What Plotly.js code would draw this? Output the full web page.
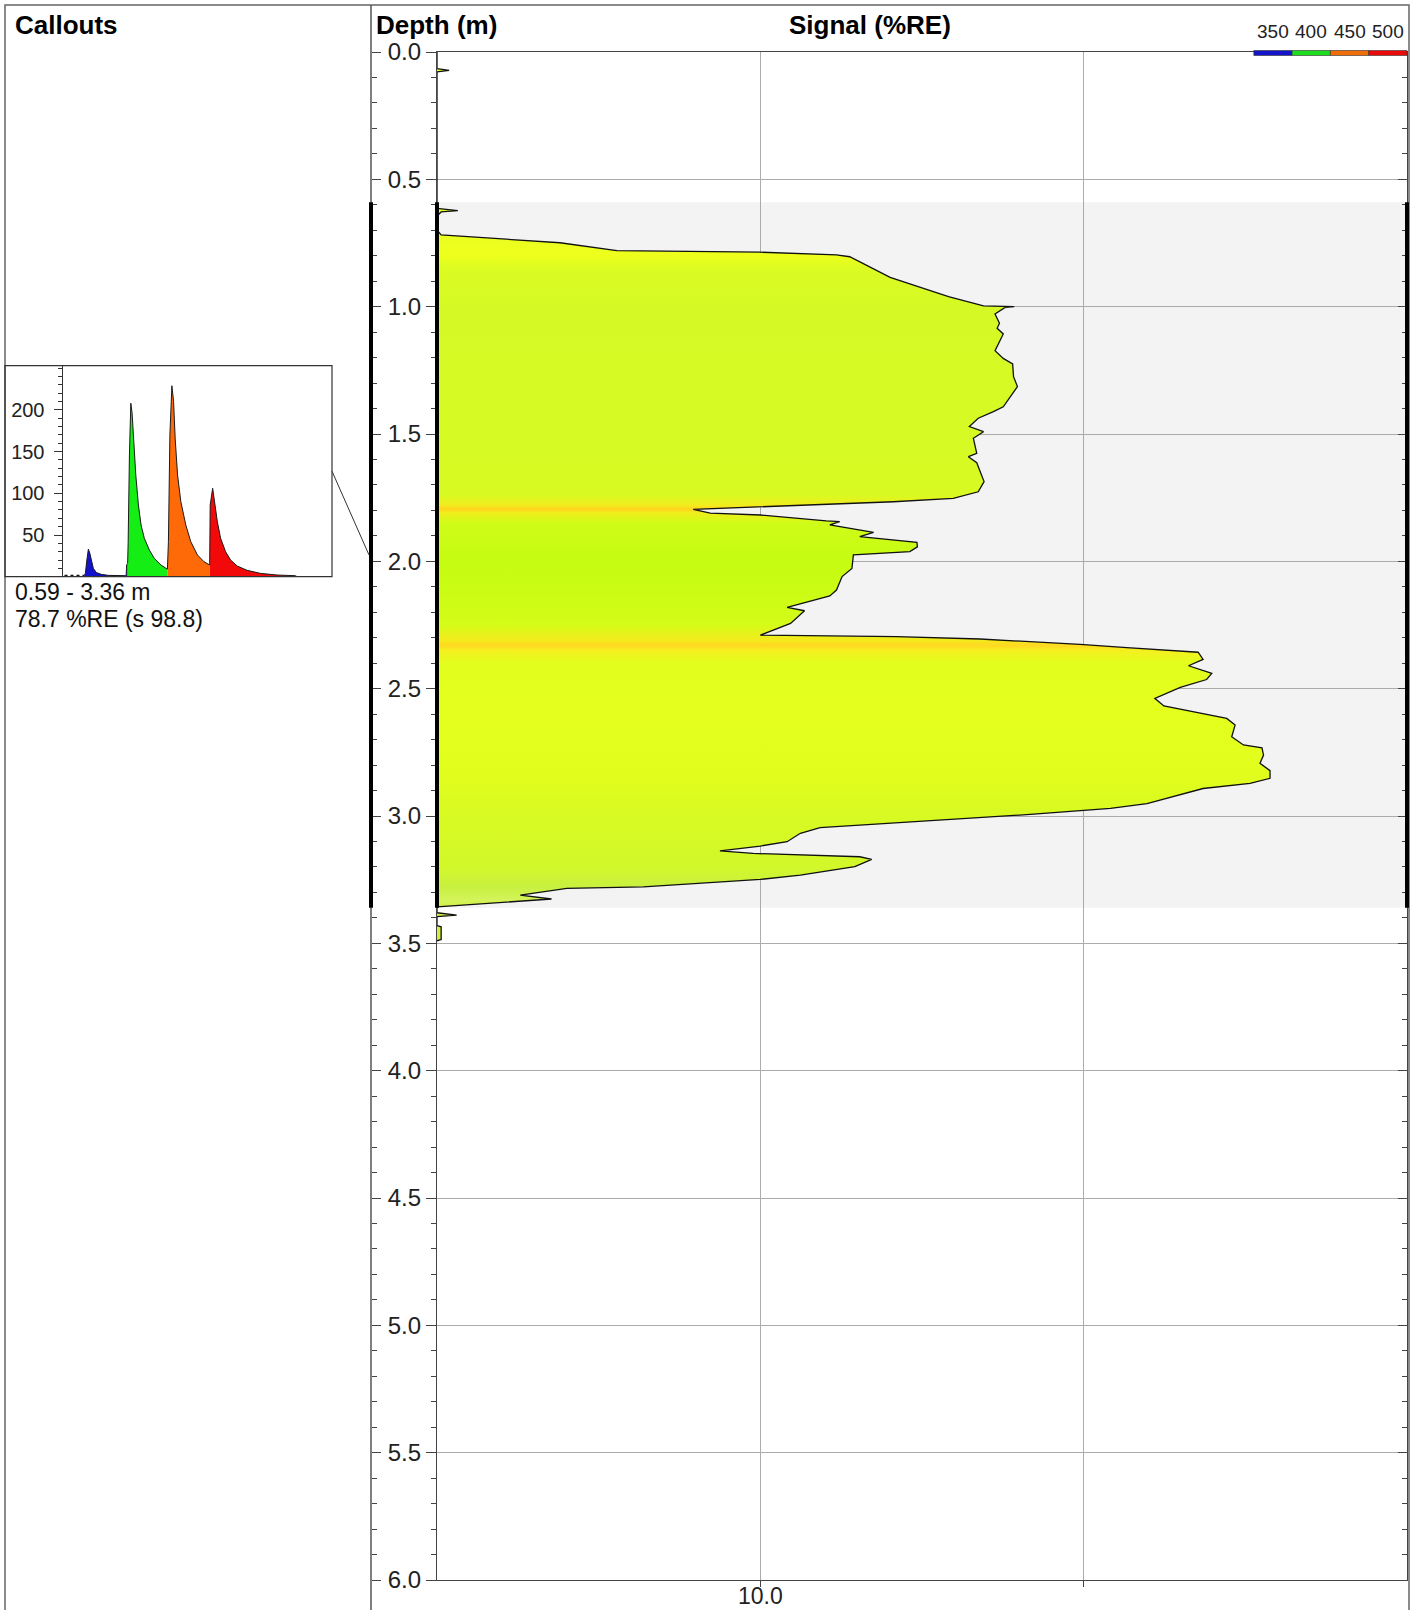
<!DOCTYPE html>
<html><head><meta charset="utf-8">
<script src="https://cdn.plot.ly/plotly-3.0.1.min.js"></script>
<style>html,body{margin:0;padding:0;background:#fff}#chart{width:1419px;height:1610px}</style>
</head><body><div id="chart"></div>
<script>
// ---------------- DATA ----------------
// Depth profile of the fluorescence signal (m, %RE)
const depth = [0.00,0.065,0.072,0.078,0.59,0.614,0.623,0.628,0.644,0.700,0.718,0.731,0.749,0.780,0.784,0.786,0.797,0.804,0.885,0.961,0.997,1.000,1.004,1.029,1.065,1.085,1.107,1.173,1.203,1.225,1.275,1.314,1.393,1.412,1.438,1.471,1.491,1.517,1.576,1.589,1.613,1.687,1.727,1.753,1.766,1.775,1.786,1.796,1.811,1.818,1.841,1.844,1.857,1.886,1.903,1.925,1.943,1.962,1.975,2.028,2.060,2.113,2.136,2.181,2.194,2.244,2.290,2.293,2.296,2.305,2.316,2.326,2.339,2.357,2.385,2.410,2.440,2.464,2.495,2.538,2.568,2.617,2.643,2.689,2.721,2.732,2.761,2.793,2.822,2.852,2.872,2.892,2.951,2.970,2.993,3.027,3.046,3.068,3.101,3.118,3.137,3.147,3.160,3.170,3.199,3.232,3.249,3.278,3.284,3.311,3.326,3.357,3.380,3.389,3.395,3.430,3.435,3.485,3.490];
const signal = [1.0,1.0,1.09,1.0,1.0,1.0,1.16,1.03,1.0,1.0,1.03,1.49,2.4,3.6,6.7,10.0,17.2,18.9,25.2,38.2,49,61,57,53.2,54.9,54,56.4,53.2,56.4,60.3,60.7,62.4,56.4,52.6,47.2,44.3,49,45.6,46.7,44,46.7,49.2,47.2,39.5,25.8,17.2,10,6.2,7.0,10,16.0,17.6,16.4,22.4,20.3,30.5,30.6,29,19.4,19.2,17.9,17.2,16.4,12.1,13.7,12.4,10,16,26.4,47.8,69.9,97.5,136,226,234,211,249,240,199,166,177,277,294,287,312,356,360,351,377,377,327,234,157,121,70,27,15.3,13.3,12.1,10,7.5,9.5,20.3,22.1,19.6,13.3,10,4.35,2.52,1.81,2.26,1.0,1.0,1.15,1.0,1.0,1.03,1.03,1.0];

// Colour of the fill by depth (waveform colour mix)
const colorDepths = [0.59,0.72,0.80,0.85,1.00,1.50,1.74,1.78,1.795,1.81,1.85,2.00,2.10,2.25,2.31,2.33,2.35,2.40,2.60,2.80,3.00,3.20,3.28,3.33,3.36];
const colorHex    = ['#e4ff22','#eaff20','#eeff1c','#dcfc22','#d4f924','#d6fa24','#d8fa22','#f2ec1e','#ffd41e','#f0ee1c','#cffc18','#c6fc12','#cafc14','#d4fc18','#f4ea1c','#ffd822','#f4f01e','#e2fe1e','#e4ff1c','#e2fe1c','#d8fa22','#d2f82a','#c8f040','#d4f45a','#d0f040'];

// Callout interval
const calloutRange = [0.59, 3.36];
const calloutMean = 78.7;
const calloutS = 98.8;

// Callout waveform (4 channels)
const preT = [2, 22];
const preV = [1, 1];
const blueT = [22,23,24.5,26,27.5,29,31,34,39,46,55,64,64.5,65.5];
const blueV = [1.5,4,20,33,28,20,10,5,2.8,1.6,1.2,1.2,14,16];
const greenT = [65.5,66,67.3,68.7,70,71.7,73.7,76.3,79,82.3,87.3,92.3,99,105.5];
const greenV = [16,40,146,208,196,162,122,86,62,46,32,22,14,9];
const orangeT = [105.5,106.5,108,110,111.7,113.3,115.7,119,124,129,135.7,142.3,148];
const orangeV = [9,42,170,229,210,166,122,90,62,42,26,18,14];
const redT = [148,148.5,151,153,155.7,159,164,169,175.7,185.7,199,215.7,234,236];
const redV = [14,86,106,90,66,46,30,20,12.8,7.6,4,2,1.2,0];
const channelColors = ['#1212cc','#14ee14','#ff6a08','#f20a0a'];

// Wavelength legend
const legendWavelengths = [350, 400, 450, 500];
const legendColors = ['#1414c8','#1edc1e','#f06e0a','#eb0a0a'];

// Axis ticks
const signalTickVals = [10, 100];
const signalTickText = ['10.0', ''];
const waveTickVals = [50, 100, 150, 200];

// ---------------- LAYOUT HELPERS ----------------
const W = 1419, H = 1610;
const M = {l: 5, r: 12, t: 52, b: 30};
const PW = W - M.l - M.r, PH = H - M.t - M.b;
const px = v => (v - M.l) / PW;
const py = v => 1 - (v - M.t) / PH;
const FONT = "'Liberation Sans', Arial, sans-serif";
const xRangeLog = [0, 3];
const edgeVal = Math.pow(10, xRangeLog[0]);

const plotLeft = px(437), dividerX = px(371);
const insetDomX = [px(62.5), px(332)];
const insetDomY = [py(576.7), py(365.7)];

// ---------------- TRACES ----------------
const cs0 = colorDepths[0], cs1 = colorDepths[colorDepths.length - 1];
const fillTrace = {
  type: 'scatter', mode: 'lines', xaxis: 'x', yaxis: 'y',
  x: signal.concat([edgeVal, edgeVal]),
  y: depth.concat([depth[depth.length - 1], depth[0]]),
  fill: 'toself', fillcolor: '#d6fa24',
  fillgradient: {type: 'vertical', start: cs0, stop: cs1,
    colorscale: colorDepths.map((d, i) => [(d - cs0) / (cs1 - cs0), colorHex[i]])},
  line: {width: 0}, hoverinfo: 'skip', showlegend: false
};
const outlineTrace = {
  type: 'scatter', mode: 'lines', xaxis: 'x', yaxis: 'y',
  x: signal, y: depth, line: {color: '#111', width: 1.3},
  hoverinfo: 'skip', showlegend: false
};
const dummy2 = {type: 'scatter', mode: 'markers', xaxis: 'x', yaxis: 'y2', x: [signal[0]], y: [depth[0]], marker: {opacity: 0}, hoverinfo: 'skip', showlegend: false};
const dummy3 = {type: 'scatter', mode: 'markers', xaxis: 'x', yaxis: 'y3', x: [signal[0]], y: [depth[0]], marker: {opacity: 0}, hoverinfo: 'skip', showlegend: false};

const chans = [[blueT, blueV], [greenT, greenV], [orangeT, orangeV], [redT, redV]];
const waveTraces = chans.map((c, i) => ({
  type: 'scatter', mode: 'lines', xaxis: 'x3', yaxis: 'y4',
  x: c[0], y: c[1], fill: 'tozeroy', fillcolor: channelColors[i],
  line: {color: '#1a1a1a', width: 1}, hoverinfo: 'skip', showlegend: false
}));
const preTrace = {type: 'scatter', mode: 'lines', xaxis: 'x3', yaxis: 'y4', x: preT, y: preV,
  line: {color: '#111', width: 2, dash: 'dot'}, hoverinfo: 'skip', showlegend: false};

// ---------------- SHAPES ----------------
const midDepth = (calloutRange[0] + calloutRange[1]) / 2;
const shapes = [
  // shaded callout interval
  {type: 'rect', xref: 'x domain', yref: 'y', x0: 0, x1: 1, y0: calloutRange[0], y1: calloutRange[1],
   fillcolor: '#f3f3f3', line: {width: 0}, layer: 'below'},
  // outer frame
  {type: 'rect', xref: 'paper', yref: 'paper', x0: px(5), x1: px(1409), y0: py(1640), y1: py(5),
   line: {color: '#666', width: 1.5}, layer: 'above'},
  // divider
  {type: 'line', xref: 'paper', yref: 'paper', x0: dividerX, x1: dividerX, y0: py(1640), y1: py(5),
   line: {color: '#555', width: 1.5}},
  // interval bars
  {type: 'line', xref: 'paper', yref: 'y', x0: dividerX, x1: dividerX, y0: calloutRange[0], y1: calloutRange[1], line: {color: '#000', width: 4}},
  {type: 'line', xref: 'x domain', yref: 'y', x0: 0, x1: 0, y0: calloutRange[0], y1: calloutRange[1], line: {color: '#000', width: 4}},
  {type: 'line', xref: 'x domain', yref: 'y', x0: 1, x1: 1, y0: calloutRange[0], y1: calloutRange[1], line: {color: '#000', width: 4}},
  // inset box
  {type: 'rect', xref: 'paper', yref: 'paper', x0: px(5), x1: insetDomX[1], y0: insetDomY[0], y1: insetDomY[1],
   line: {color: '#333', width: 1.2}},
  // leader line
  {type: 'line', xref: 'paper', yref: 'paper', x0: insetDomX[1], y0: (insetDomY[0] + insetDomY[1]) / 2,
   x1: dividerX - px(7) + px(5), y1: 1 - midDepth / 6, line: {color: '#333', width: 1}}
];
// wavelength legend bars
const segW = 38.3 / PW;
legendColors.forEach((c, i) => {
  const x0 = 1 - (legendColors.length - i) * segW;
  shapes.push({type: 'rect', xref: 'paper', yref: 'paper', x0: x0, x1: x0 + segW, y0: py(55.5), y1: py(50.5),
    fillcolor: c, line: {color: '#333', width: 0.6}});
});

// ---------------- ANNOTATIONS ----------------
const annotations = [
  {text: '<b>Callouts</b>', xref: 'paper', yref: 'paper', x: px(13), y: py(25), xanchor: 'left', yanchor: 'middle', showarrow: false, font: {family: FONT, size: 26, color: '#000'}},
  {text: '<b>Depth (m)</b>', xref: 'paper', yref: 'paper', x: px(374), y: py(25), xanchor: 'left', yanchor: 'middle', showarrow: false, font: {family: FONT, size: 26, color: '#000'}},
  {text: '<b>Signal (%RE)</b>', xref: 'paper', yref: 'paper', x: px(870), y: py(25), xanchor: 'center', yanchor: 'middle', showarrow: false, font: {family: FONT, size: 26, color: '#000'}},
  {text: calloutRange[0].toFixed(2) + ' - ' + calloutRange[1].toFixed(2) + ' m', xref: 'paper', yref: 'paper', x: px(13), y: py(591.5), xanchor: 'left', yanchor: 'middle', showarrow: false, font: {family: FONT, size: 23, color: '#111'}},
  {text: calloutMean.toFixed(1) + ' %RE (s ' + calloutS.toFixed(1) + ')', xref: 'paper', yref: 'paper', x: px(13), y: py(618.5), xanchor: 'left', yanchor: 'middle', showarrow: false, font: {family: FONT, size: 23, color: '#111'}}
];
legendWavelengths.forEach((w, i) => {
  const x0 = 1 - (legendWavelengths.length - i) * segW;
  annotations.push({text: String(w), xref: 'paper', yref: 'paper', x: x0 + segW / 2, y: py(31), xanchor: 'center', yanchor: 'middle', showarrow: false, font: {family: FONT, size: 19, color: '#222'}});
});

// ---------------- LAYOUT ----------------
const depthAxisCommon = {range: [6, 0], tickmode: 'linear', tick0: 0, dtick: 0.5};
const layout = {
  width: W, height: H, margin: M, paper_bgcolor: '#fff', plot_bgcolor: '#fff', showlegend: false,
  font: {family: FONT, color: '#222'},
  xaxis: {domain: [plotLeft, 1], anchor: 'y', type: 'log', range: xRangeLog, tickmode: 'array',
    tickvals: signalTickVals, ticktext: signalTickText, ticks: 'outside', ticklen: 6, tickcolor: '#444',
    ticklabelstandoff: -11,
    showgrid: true, gridcolor: '#ababab', gridwidth: 1, showline: true, linecolor: '#444', linewidth: 1.2,
    mirror: true, zeroline: false, tickfont: {size: 23, color: '#222'}, fixedrange: true},
  yaxis: Object.assign({domain: [0, 1], anchor: 'x', tickformat: '.1f', ticks: 'outside', ticklen: 10,
    tickcolor: '#444', showgrid: true, gridcolor: '#ababab', showline: true, linecolor: '#444', linewidth: 1.2,
    zeroline: false, tickfont: {size: 24, color: '#222'},
    minor: {ticks: 'outside', ticklen: 5, tick0: 0, dtick: 0.1, tickcolor: '#444', showgrid: false}}, depthAxisCommon),
  yaxis2: Object.assign({overlaying: 'y', anchor: 'free', position: dividerX, side: 'right', ticks: 'outside',
    ticklen: 9, tickcolor: '#444', showticklabels: false, showgrid: false, showline: false, zeroline: false,
    minor: {ticks: 'outside', ticklen: 5, tick0: 0, dtick: 0.1, tickcolor: '#444', showgrid: false}}, depthAxisCommon),
  yaxis3: Object.assign({overlaying: 'y', anchor: 'x', side: 'right', ticks: 'inside',
    ticklen: 9, tickcolor: '#444', showticklabels: false, showgrid: false, showline: true, linecolor: '#444',
    linewidth: 1.2, zeroline: false,
    minor: {ticks: 'inside', ticklen: 5, tick0: 0, dtick: 0.1, tickcolor: '#444', showgrid: false}}, depthAxisCommon),
  xaxis3: {domain: insetDomX, anchor: 'y4', range: [0, 271], showticklabels: false, ticks: '', showgrid: false,
    showline: false, zeroline: false},
  yaxis4: {domain: insetDomY, anchor: 'x3', range: [0, 253], tickmode: 'array', tickvals: waveTickVals,
    ticks: 'outside', ticklen: 8, tickcolor: '#333', showgrid: false, showline: true, linecolor: '#333',
    ticklabelstandoff: 5,
    zeroline: false, tickfont: {size: 20, color: '#222'},
    minor: {tickmode: 'linear', tick0: 0, dtick: 10, ticks: 'outside', ticklen: 4, tickcolor: '#333', showgrid: false}},
  shapes: shapes,
  annotations: annotations
};

Plotly.newPlot('chart', [fillTrace, outlineTrace, dummy2, dummy3, preTrace].concat(waveTraces), layout,
  {displayModeBar: false, staticPlot: true});
</script>
</body></html>
